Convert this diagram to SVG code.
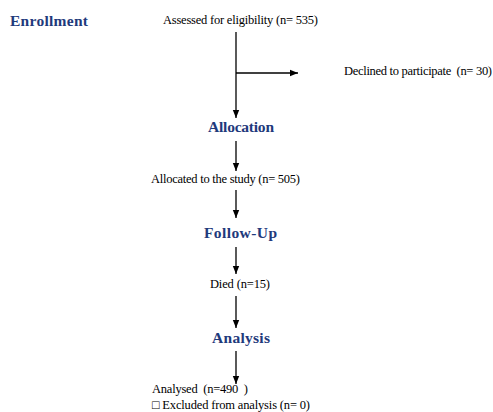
<svg xmlns="http://www.w3.org/2000/svg" width="493" height="412" viewBox="0 0 493 412">
<defs>
<marker id="ah" viewBox="0 0 10 10" refX="10" refY="5" markerWidth="8" markerHeight="8" markerUnits="userSpaceOnUse" orient="auto">
<path d="M0,1 L10,5 L0,9 z" fill="#000"/>
</marker>
<style>
.h{font-family:"Liberation Serif","Times New Roman",serif;font-weight:bold;font-size:15.5px;fill:#1f3a7c}
.t{font-family:"Liberation Serif","Times New Roman",serif;font-size:12.5px;fill:#000}
.c{stroke:#000;stroke-width:1.3;fill:none}
</style>
</defs>
<rect width="493" height="412" fill="#fff"/>
<g id="enrollment"><text class="h" x="10" y="26" textLength="78">Enrollment</text></g>
<g id="assessed"><text class="t" x="163" y="24" textLength="155">Assessed for eligibility (n= 535)</text></g>
<g id="declined"><text class="t" x="344" y="75" textLength="148" xml:space="preserve">Declined to participate  (n= 30)</text></g>
<g id="allocation"><text class="h" x="208" y="132" textLength="66">Allocation</text></g>
<g id="allocated"><text class="t" x="151" y="183" textLength="149">Allocated to the study (n= 505)</text></g>
<g id="followup"><text class="h" x="204" y="238" textLength="73">Follow-Up</text></g>
<g id="died"><text class="t" x="210" y="288" textLength="60">Died (n=15)</text></g>
<g id="analysis"><text class="h" x="212" y="343" textLength="58">Analysis</text></g>
<g id="analysed"><text class="t" x="152" y="393" textLength="96" xml:space="preserve">Analysed  (n=490  )</text>
<text class="t" x="152" y="409" textLength="158" xml:space="preserve">□ Excluded from analysis (n= 0)</text></g>
<g id="connectors">
<line class="c" x1="236" y1="32" x2="236" y2="118" marker-end="url(#ah)"/>
<line class="c" x1="236" y1="73" x2="298" y2="73" marker-end="url(#ah)"/>
<line class="c" x1="236" y1="141" x2="236" y2="171" marker-end="url(#ah)"/>
<line class="c" x1="236" y1="190" x2="236" y2="218" marker-end="url(#ah)"/>
<line class="c" x1="236" y1="247" x2="236" y2="274" marker-end="url(#ah)"/>
<line class="c" x1="236" y1="296" x2="236" y2="328" marker-end="url(#ah)"/>
<line class="c" x1="236" y1="351" x2="236" y2="384" marker-end="url(#ah)"/>
</g>
</svg>
